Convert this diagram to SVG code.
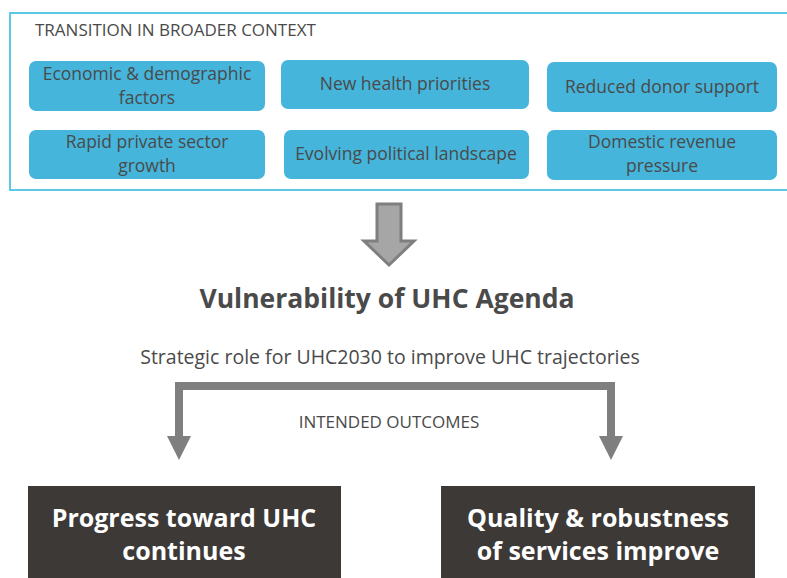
<svg xmlns="http://www.w3.org/2000/svg" width="787" height="578" viewBox="0 0 787 578">
<style>
.ctx{fill:#45b5db;}
.t{font-family:"Open Sans","DejaVu Sans",sans-serif;fill:#4a4a4a;text-anchor:middle;}
.box{font-size:17.5px;}
.out{fill:#3c3937;}
.ot{font-family:"Open Sans","DejaVu Sans",sans-serif;font-weight:bold;font-size:25px;fill:#ffffff;text-anchor:middle;}
.conn{fill:none;stroke:#7f7f7f;stroke-width:8;}
.head{fill:#7f7f7f;}
</style>
<rect width="787" height="578" fill="#ffffff"/>
<g id="context">
<rect x="10" y="13" width="790" height="177" fill="none" stroke="#5bc8e6" stroke-width="2"/>
<text x="35" y="36" class="t" style="text-anchor:start;font-size:17px">TRANSITION IN BROADER CONTEXT</text>
</g>
<g id="n1"><rect x="29" y="61" width="236" height="50" rx="7" class="ctx"/><text class="t box" x="147" y="80">Economic &amp; demographic</text><text class="t box" x="147" y="104">factors</text></g>
<g id="n2"><rect x="281" y="60" width="248" height="49" rx="7" class="ctx"/><text class="t box" x="405" y="90">New health priorities</text></g>
<g id="n3"><rect x="547" y="62" width="230" height="50" rx="7" class="ctx"/><text class="t box" x="662" y="93">Reduced donor support</text></g>
<g id="n4"><rect x="29" y="130" width="236" height="49" rx="7" class="ctx"/><text class="t box" x="147" y="148">Rapid private sector</text><text class="t box" x="147" y="172">growth</text></g>
<g id="n5"><rect x="284" y="130" width="245" height="49" rx="7" class="ctx"/><text class="t box" x="406" y="160">Evolving political landscape</text></g>
<g id="n6"><rect x="547" y="130" width="230" height="50" rx="7" class="ctx"/><text class="t box" x="662" y="148">Domestic revenue</text><text class="t box" x="662" y="172">pressure</text></g>
<g id="connectors">
<polygon points="377,204 401,204 401,241 414,241 389,265 364,241 377,241" fill="#a6a6a6" stroke="#7f7f7f" stroke-width="3" stroke-linejoin="miter"/>
<polyline class="conn" points="179,437 179,386 611,386 611,437"/>
<polygon class="head" points="167,436 191,436 179,460"/>
<polygon class="head" points="599,436 623,436 611,460"/>
</g>
<g id="vuln"><text class="t" x="387" y="308" style="font-size:26.5px;font-weight:bold">Vulnerability of UHC Agenda</text></g>
<g id="strategic"><text class="t" x="390" y="364" style="font-size:19.5px">Strategic role for UHC2030 to improve UHC trajectories</text></g>
<g id="intended"><text class="t" x="389" y="428" style="font-size:17px">INTENDED OUTCOMES</text></g>
<g id="o1"><rect x="28" y="486" width="313" height="100" class="out"/><text class="ot" x="184" y="527">Progress toward UHC</text><text class="ot" x="184" y="560">continues</text></g>
<g id="o2"><rect x="441" y="486" width="314" height="100" class="out"/><text class="ot" x="598" y="527">Quality &amp; robustness</text><text class="ot" x="598" y="560">of services improve</text></g>
</svg>
